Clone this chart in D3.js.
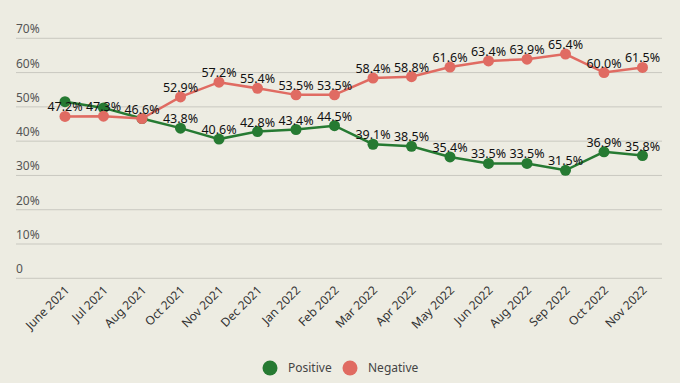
<!DOCTYPE html>
<html>
<head>
<meta charset="utf-8">
<script src="https://cdn.jsdelivr.net/npm/d3@7"></script>
<style>
  body { margin: 0; background: #edece2; }
  svg { display: block; font-family: "Noto Sans", sans-serif; }
</style>
</head>
<body>
<div id="chart"></div>
<script>
var months = ["June 2021", "Jul 2021", "Aug 2021", "Oct 2021", "Nov 2021", "Dec 2021",
  "Jan 2022", "Feb 2022", "Mar 2022", "Apr 2022", "May 2022", "Jun 2022",
  "Aug 2022", "Sep 2022", "Oct 2022", "Nov 2022"];
var positive = [51.5, 49.7, 46.6, 43.8, 40.6, 42.8, 43.4, 44.5, 39.1, 38.5, 35.4, 33.5, 33.5, 31.5, 36.9, 35.8];
var negative = [47.2, 47.3, 46.6, 52.9, 57.2, 55.4, 53.5, 53.5, 58.4, 58.8, 61.6, 63.4, 63.9, 65.4, 60.0, 61.5];
var yTicks = [0, 10, 20, 30, 40, 50, 60, 70];
// labels hidden in the original where they collide
var hidePositiveLabel = [0, 1, 2];

var width = 680, height = 383;
var green = "#267a32", red = "#e06b62";

var svg = d3.select("#chart").append("svg")
  .attr("width", width)
  .attr("height", height);

svg.append("rect").attr("width", width).attr("height", height).attr("fill", "#edece2");

var x = d3.scalePoint().domain(months).range([65, 642.5]);
var y = d3.scaleLinear().domain([0, 70]).range([278.3, 38.3]);

// grid + y labels
var grid = svg.append("g");
grid.selectAll("line").data(yTicks).enter().append("line")
  .attr("x1", 16).attr("x2", 662)
  .attr("y1", function(d) { return y(d); })
  .attr("y2", function(d) { return y(d); })
  .attr("stroke", "#c9c8c0").attr("stroke-width", 1);
grid.selectAll("text").data(yTicks).enter().append("text")
  .attr("x", 16)
  .attr("y", function(d) { return y(d) - 5; })
  .attr("font-size", 12)
  .attr("fill", "#555")
  .text(function(d) { return d === 0 ? "0" : d + "%"; });

// x labels
svg.append("g").selectAll("text").data(months).enter().append("text")
  .attr("transform", function(d) { return "translate(" + (x(d) + 5) + ",291) rotate(-45)"; })
  .attr("text-anchor", "end")
  .attr("font-size", 12)
  .attr("fill", "#333")
  .text(function(d) { return d; });

function drawSeries(values, colour) {
  var line = d3.line()
    .x(function(d, i) { return x(months[i]); })
    .y(function(d) { return y(d); });
  var g = svg.append("g");
  g.append("path").datum(values)
    .attr("d", line)
    .attr("fill", "none")
    .attr("stroke", colour)
    .attr("stroke-width", 2.5);
  g.selectAll("circle").data(values).enter().append("circle")
    .attr("cx", function(d, i) { return x(months[i]); })
    .attr("cy", function(d) { return y(d); })
    .attr("r", 5.5)
    .attr("fill", colour);
}

drawSeries(positive, green);
drawSeries(negative, red);

function labels(values, hide) {
  var g = svg.append("g");
  values.forEach(function(v, i) {
    if (hide.indexOf(i) >= 0) return;
    g.append("text")
      .attr("x", x(months[i]))
      .attr("y", y(v) - 5)
      .attr("text-anchor", "middle")
      .attr("font-size", 12.5)
      .attr("fill", "#111")
      .text(v.toFixed(1) + "%");
  });
}
labels(positive, hidePositiveLabel);
labels(negative, []);

// legend
var legend = [{name: "Positive", colour: green, x: 270}, {name: "Negative", colour: red, x: 350}];
var lg = svg.append("g");
legend.forEach(function(l) {
  lg.append("circle").attr("cx", l.x).attr("cy", 368).attr("r", 7.5).attr("fill", l.colour);
  lg.append("text").attr("x", l.x + 18).attr("y", 372).attr("font-size", 12)
    .attr("fill", "#444").text(l.name);
});
</script>
</body>
</html>
